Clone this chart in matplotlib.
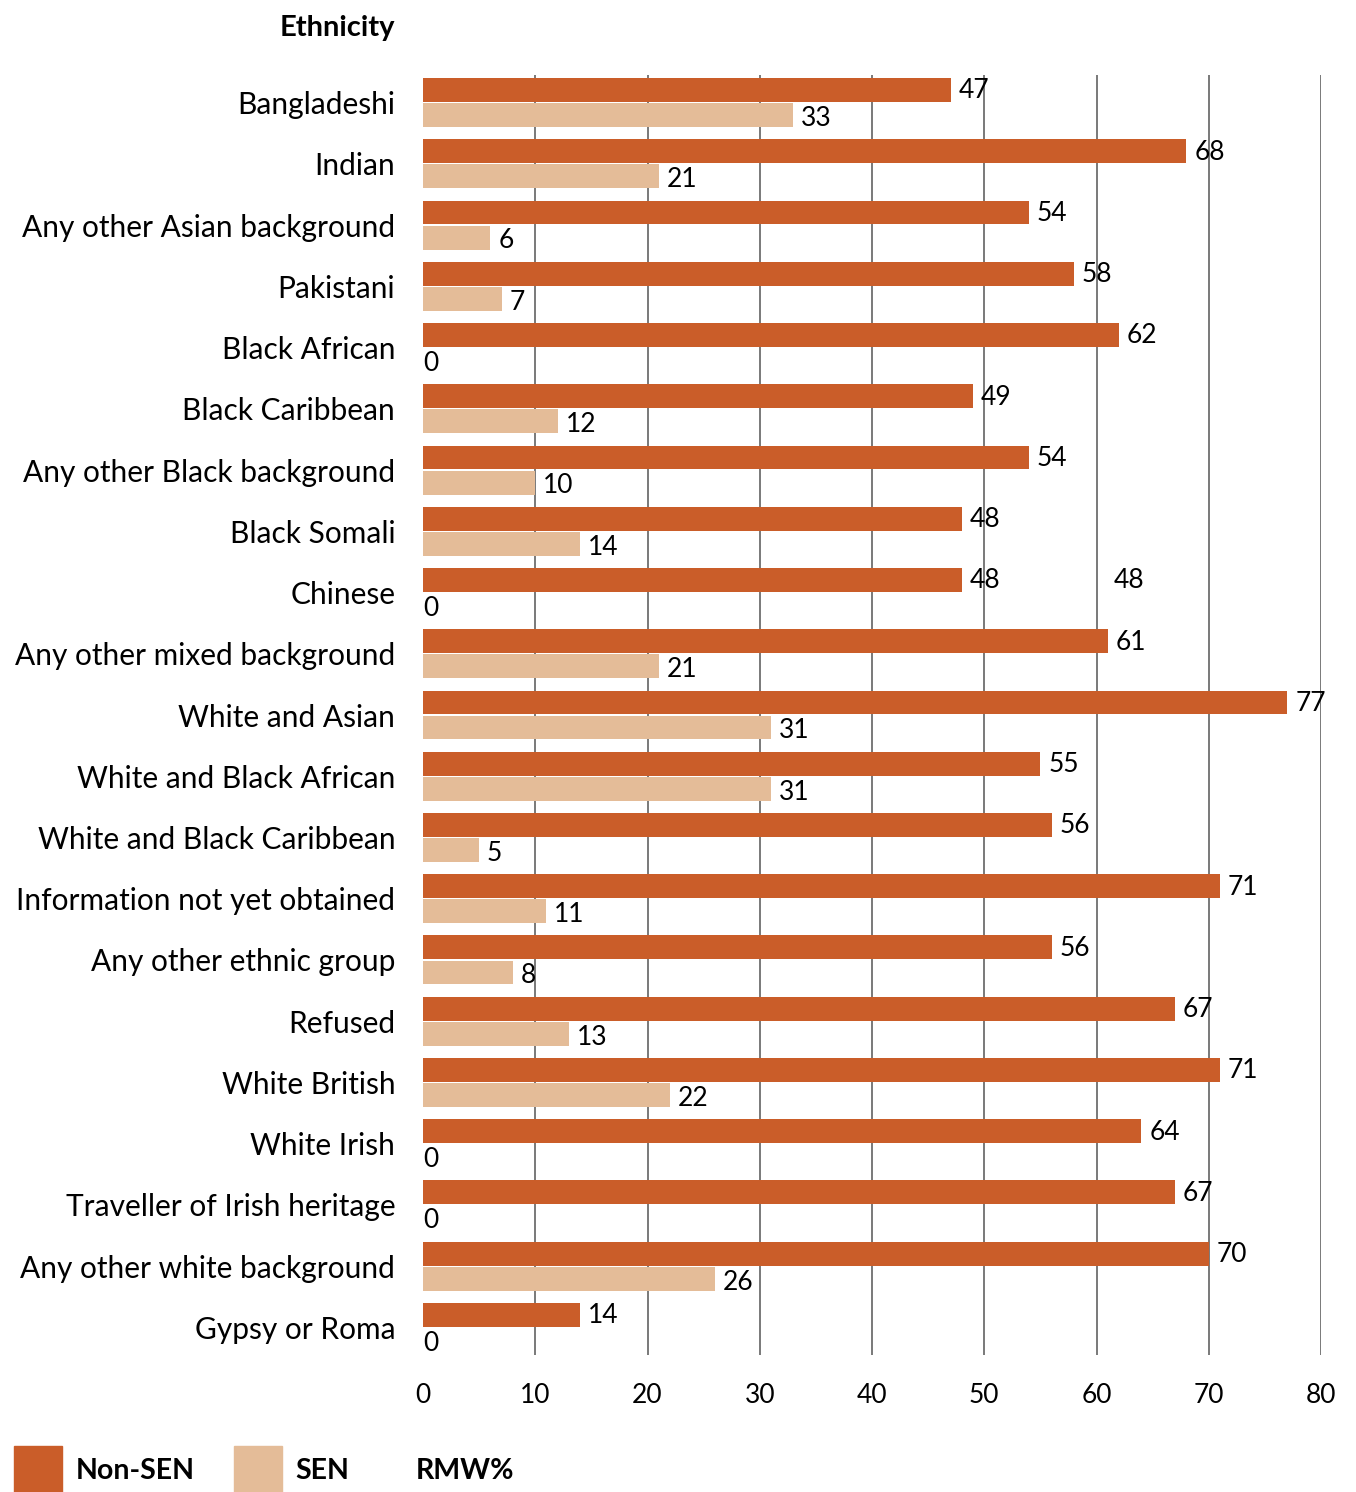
import matplotlib
matplotlib.use("Agg")
import matplotlib.pyplot as plt
import numpy as np

plt.rcParams['font.family'] = ['Lato', 'DejaVu Sans']

# data (RMW %)
categories = ['Bangladeshi', 'Indian', 'Any other Asian background', 'Pakistani',
              'Black African', 'Black Caribbean', 'Any other Black background',
              'Black Somali', 'Chinese', 'Any other mixed background',
              'White and Asian', 'White and Black African', 'White and Black Caribbean',
              'Information not yet obtained', 'Any other ethnic group', 'Refused',
              'White British', 'White Irish', 'Traveller of Irish heritage',
              'Any other white background', 'Gypsy or Roma']
non_sen = [47, 68, 54, 58, 62, 49, 54, 48, 48, 61, 77, 55, 56, 71, 56, 67, 71, 64, 67, 70, 14]
sen = [33, 21, 6, 7, 0, 12, 10, 14, 0, 21, 31, 31, 5, 11, 8, 13, 22, 0, 0, 26, 0]
xticks = [0, 10, 20, 30, 40, 50, 60, 70, 80]

c_non = '#CA5D29'
c_sen = '#E4BC98'

fig = plt.figure(figsize=(13.56, 14.92), dpi=100)
ax = fig.add_axes([423/1356, 1 - 1355/1492, 898/1356, 1280/1492])

y = np.arange(len(categories))
h = 0.39
ax.barh(y - 0.205, non_sen, height=h, color=c_non, zorder=2)
ax.barh(y + 0.205, sen, height=h, color=c_sen, zorder=2)

for yi, v in zip(y, non_sen):
    ax.text(v + 0.7, yi - 0.19, str(v), va='center', ha='left', fontsize=19, zorder=3)
for yi, v in zip(y, sen):
    ax.text(v + 0.7 if v > 0 else 0, yi + 0.26, str(v), va='center', ha='left',
            fontsize=19, zorder=3)
# stray label that appears in the source next to Chinese
ax.text(61.5, 8 - 0.19, '48', va='center', ha='left', fontsize=19)

ax.set_xlim(0, 80)
ax.set_ylim(len(categories) - 0.55, -0.45)
ax.set_xticks(xticks)
ax.set_xticklabels([str(t) for t in xticks], fontsize=19)
ax.set_yticks(y)
ax.set_yticklabels(categories, fontsize=21.5)
ax.tick_params(axis='both', length=0)
ax.tick_params(axis='x', pad=20)
ax.tick_params(axis='y', pad=20)
for s in ax.spines.values():
    s.set_visible(False)
for t in xticks[1:]:
    ax.axvline(t, color='#555555', lw=1.1, zorder=1)

fig.text(395/1356, 1 - 28/1492, 'Ethnicity', ha='right', va='center',
         fontsize=21, fontweight='bold')

# legend row at the bottom
ly = 1 - 1471/1492
fig.patches.append(plt.Rectangle((14/1356, 0), 48/1356, 46/1492,
                                 transform=fig.transFigure, color=c_non))
fig.patches.append(plt.Rectangle((234/1356, 0), 48/1356, 46/1492,
                                 transform=fig.transFigure, color=c_sen))
fig.text(76/1356, ly, 'Non-SEN', ha='left', va='center', fontsize=20.5, fontweight='bold')
fig.text(295/1356, ly, 'SEN', ha='left', va='center', fontsize=20.5, fontweight='bold')
fig.text(416/1356, ly, 'RMW%', ha='left', va='center', fontsize=20.5, fontweight='bold')

fig.savefig('out.png', dpi=100)
